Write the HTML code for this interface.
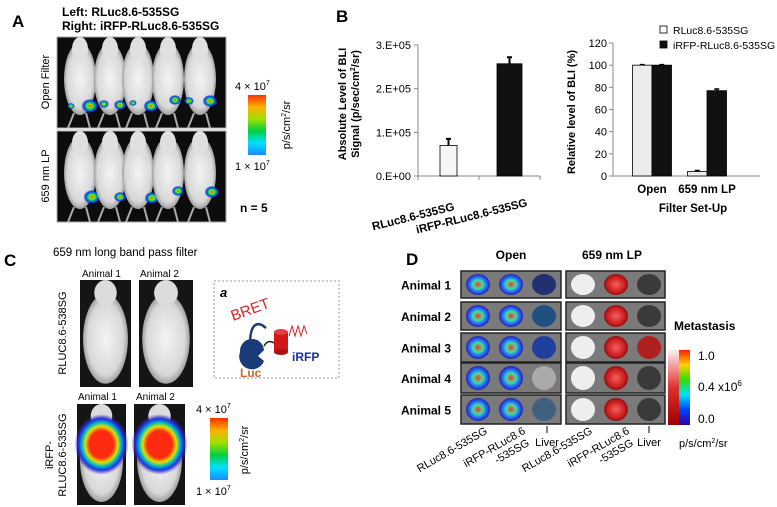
<!DOCTYPE html>
<html><head><meta charset="utf-8">
<style>
html,body{margin:0;padding:0;background:#fff;}
svg{display:block;font-family:"Liberation Sans",Arial,sans-serif;}
</style></head>
<body>
<svg id="fig" width="777" height="507" viewBox="0 0 777 507" xmlns="http://www.w3.org/2000/svg">
<defs>
  <linearGradient id="rainbow" x1="0" y1="1" x2="0" y2="0">
    <stop offset="0" stop-color="#1a8cff"/><stop offset="0.2" stop-color="#00e0ff"/>
    <stop offset="0.4" stop-color="#00d040"/><stop offset="0.6" stop-color="#a0e000"/>
    <stop offset="0.8" stop-color="#ffb000"/><stop offset="1" stop-color="#ff3000"/>
  </linearGradient>
  <linearGradient id="rainbowD" x1="0" y1="1" x2="0" y2="0">
    <stop offset="0" stop-color="#3000a0"/><stop offset="0.2" stop-color="#0040ff"/>
    <stop offset="0.4" stop-color="#00e0ff"/><stop offset="0.6" stop-color="#30e000"/>
    <stop offset="0.8" stop-color="#ffd000"/><stop offset="1" stop-color="#ff2000"/>
  </linearGradient>
  <linearGradient id="redbar" x1="0" y1="1" x2="0" y2="0">
    <stop offset="0" stop-color="#a00000"/><stop offset="0.5" stop-color="#e03030"/><stop offset="1" stop-color="#fff0f0"/>
  </linearGradient>
  <radialGradient id="spot">
    <stop offset="0" stop-color="#ff3000"/><stop offset="0.25" stop-color="#a0e000"/>
    <stop offset="0.5" stop-color="#00d060"/><stop offset="0.75" stop-color="#0040ff"/><stop offset="1" stop-color="#2010c0" stop-opacity="0.2"/>
  </radialGradient>
  <radialGradient id="bigspot">
    <stop offset="0" stop-color="#ff2a10"/><stop offset="0.45" stop-color="#ff2a10"/><stop offset="0.6" stop-color="#e0e000"/>
    <stop offset="0.72" stop-color="#00c0c0"/><stop offset="0.85" stop-color="#2030e0"/><stop offset="1" stop-color="#4020c0" stop-opacity="0"/>
  </radialGradient>
  <radialGradient id="mouse">
    <stop offset="0" stop-color="#f4f4f4"/><stop offset="0.8" stop-color="#d8d8d8"/><stop offset="1" stop-color="#a0a0a0"/>
  </radialGradient>
  <radialGradient id="organ">
    <stop offset="0" stop-color="#ff3020"/><stop offset="0.4" stop-color="#40e0a0"/><stop offset="0.75" stop-color="#2060ff"/><stop offset="1" stop-color="#3020a0"/>
  </radialGradient>
  <radialGradient id="redorgan">
    <stop offset="0" stop-color="#f06060"/><stop offset="0.7" stop-color="#d02020"/><stop offset="1" stop-color="#901010"/>
  </radialGradient>
</defs>

<!-- ========== PANEL A ========== -->
<g>
  <text x="12" y="27" font-size="17" font-weight="bold">A</text>
  <text x="62" y="16" font-size="12" font-weight="bold">Left: RLuc8.6-535SG</text>
  <text x="62" y="30" font-size="12" font-weight="bold">Right: iRFP-RLuc8.6-535SG</text>
  <text transform="translate(49,82) rotate(-90)" text-anchor="middle" font-size="11">Open Filter</text>
  <text transform="translate(49,176) rotate(-90)" text-anchor="middle" font-size="11">659 nm LP</text>
  <g id="mouseRows"></g>
  <rect x="248" y="95" width="18" height="60" fill="url(#rainbow)"/>
  <text x="235" y="90" font-size="11">4 × 10<tspan dy="-5" font-size="7">7</tspan></text>
  <text x="235" y="170" font-size="11">1 × 10<tspan dy="-5" font-size="7">7</tspan></text>
  <text transform="translate(290,125) rotate(-90)" text-anchor="middle" font-size="11">p/s/cm<tspan dy="-4" font-size="7">2</tspan><tspan dy="4">/sr</tspan></text>
  <text x="240" y="212" font-size="12" font-weight="bold">n = 5</text>
</g>

<!-- ========== PANEL B ========== -->
<g>
  <text x="336" y="22" font-size="17" font-weight="bold">B</text>
  <text transform="translate(346,104) rotate(-90)" text-anchor="middle" font-size="11" font-weight="bold">Absolute Level of BLI</text>
  <text transform="translate(359,104) rotate(-90)" text-anchor="middle" font-size="11" font-weight="bold">Signal (p/sec/cm<tspan dy="-4" font-size="7">2</tspan><tspan dy="4">/sr)</tspan></text>
  <g id="chart1"></g>
  <g id="chart2"></g>
</g>

<!-- ========== PANEL C ========== -->
<g>
  <text x="4" y="266" font-size="17" font-weight="bold">C</text>
  <text x="53" y="256" font-size="11.5">659 nm long band pass filter</text>
  <text x="82" y="277" font-size="10">Animal 1</text>
  <text x="140" y="277" font-size="10">Animal 2</text>
  <text x="78" y="400" font-size="10">Animal 1</text>
  <text x="136" y="400" font-size="10">Animal 2</text>
  <text transform="translate(66,333) rotate(-90)" text-anchor="middle" font-size="11">RLUC8.6-538SG</text>
  <text transform="translate(53,455) rotate(-90)" text-anchor="middle" font-size="11">iRFP-</text>
  <text transform="translate(66,455) rotate(-90)" text-anchor="middle" font-size="11">RLUC8.6-535SG</text>
  <g id="cMice"></g>
  <rect x="210" y="418" width="18" height="62" fill="url(#rainbow)"/>
  <text x="196" y="413" font-size="11">4 × 10<tspan dy="-5" font-size="7">7</tspan></text>
  <text x="196" y="495" font-size="11">1 × 10<tspan dy="-5" font-size="7">7</tspan></text>
  <text transform="translate(248,450) rotate(-90)" text-anchor="middle" font-size="11">p/s/cm<tspan dy="-4" font-size="7">2</tspan><tspan dy="4">/sr</tspan></text>
  <g>
    <rect x="214" y="281" width="125" height="97" fill="none" stroke="#999" stroke-dasharray="2,2"/>
    <text x="220" y="297" font-size="13" font-weight="bold" font-style="italic">a</text>
    <text transform="translate(233,321) rotate(-20)" font-size="15" fill="#e02020">BRET</text>
    <path d="M250 345 Q250 320 262 325 L266 328" fill="none" stroke="#1a3a7a" stroke-width="2.5"/>
    <path d="M240 352 a12 12 0 0 1 24 -2 l-6 6 l6 5 a12 12 0 0 1 -24 -9z" fill="#1a3a7a"/>
    <path d="M264 346 Q268 339 274 343" fill="none" stroke="#222" stroke-width="1.5"/>
    <rect x="274" y="332" width="14" height="20" fill="#d01818"/>
    <ellipse cx="281" cy="332" rx="7" ry="3" fill="#e04040"/>
    <ellipse cx="281" cy="352" rx="7" ry="3" fill="#b01010"/>
    <path d="M289 336 l3 -10 l3 10 l3 -10 l3 10 l3 -10 l3 8" fill="none" stroke="#e02020" stroke-width="1"/>
    <text x="240" y="377" font-size="12" font-weight="bold" fill="#c86a30">Luc</text>
    <text x="292" y="361" font-size="12" font-weight="bold" fill="#1c2ab0">iRFP</text>
  </g>
</g>

<!-- ========== PANEL D ========== -->
<g>
  <text x="406" y="265" font-size="17" font-weight="bold">D</text>
  <text x="511" y="259" text-anchor="middle" font-size="12" font-weight="bold">Open</text>
  <text x="612" y="259" text-anchor="middle" font-size="12" font-weight="bold">659 nm LP</text>
  <g id="dRows"></g>
  <text x="674" y="330" font-size="12" font-weight="bold">Metastasis</text>
  <rect x="668" y="350" width="11" height="75" fill="url(#redbar)"/>
  <rect x="679" y="350" width="11" height="75" fill="url(#rainbowD)"/>
  <text x="698" y="360" font-size="12">1.0</text>
  <text x="698" y="391" font-size="12">0.4 x10<tspan dy="-5" font-size="8">6</tspan></text>
  <text x="698" y="423" font-size="12">0.0</text>
  <text x="679" y="447" font-size="11">p/s/cm<tspan dy="-4" font-size="7">2</tspan><tspan dy="4">/sr</tspan></text>
  <g font-size="11">
    <text transform="translate(488,433) rotate(-30)" text-anchor="end">RLuc8.6-535SG</text>
    <text transform="translate(526,433) rotate(-30)" text-anchor="end">iRFP-RLuc8.6</text>
    <text transform="translate(530,445) rotate(-30)" text-anchor="end">-535SG</text>
    <text x="547" y="446" text-anchor="middle">Liver</text>
    <text transform="translate(593,433) rotate(-30)" text-anchor="end">RLuc8.6-535SG</text>
    <text transform="translate(630,433) rotate(-30)" text-anchor="end">iRFP-RLuc8.6</text>
    <text transform="translate(634,445) rotate(-30)" text-anchor="end">-535SG</text>
    <text x="649" y="446" text-anchor="middle">Liver</text>
  </g>
  <line x1="547" y1="426" x2="547" y2="433" stroke="#000"/>
  <line x1="649" y1="426" x2="649" y2="433" stroke="#000"/>
</g>

<script>
// ---- Chart data ----
const absCategories = ["RLuc8.6-535SG", "iRFP-RLuc8.6-535SG"];
const absValues = [70000, 257000];
const absErrors = [15000, 15000];
const absTicks = ["0.E+00", "1.E+05", "2.E+05", "3.E+05"];
const absTickValues = [0, 100000, 200000, 300000];

const relCategories = ["Open", "659 nm LP"];
const relRLuc = [100, 4];
const relIRFP = [100, 77];
const relRLucErr = [0.5, 1];
const relIRFPErr = [0.5, 1.5];
const relTicks = [0, 20, 40, 60, 80, 100, 120];
const relSeries = ["RLuc8.6-535SG", "iRFP-RLuc8.6-535SG"];

const NS = "http://www.w3.org/2000/svg";
function mk(tag, attrs, parent) {
  const e = document.createElementNS(NS, tag);
  for (const k in attrs) e.setAttribute(k, attrs[k]);
  parent.appendChild(e);
  return e;
}

// ---- Chart 1 (absolute) ----
(function(){
  const g = document.getElementById('chart1');
  const x0 = 418, x1 = 540, yTop = 45, yBot = 176;
  const yMax = 300000;
  const y = v => yBot - (v / yMax) * (yBot - yTop);
  const band = (x1 - x0) / absCategories.length;
  const xc = i => x0 + band * (i + 0.5);
  const ax = mk('line', {x1:x0, y1:yTop, x2:x0, y2:yBot, stroke:'#888'}, g);
  
  
  const bx = mk('line', {x1:x0, y1:yBot, x2:x1, y2:yBot, stroke:'#888'}, g);
  
  
  absTickValues.forEach((v, i) => {
    mk('line', {x1:x0-4, y1:y(v), x2:x0, y2:y(v), stroke:'#888'}, g);
    const t = mk('text', {x:x0-7, y:y(v)+4, 'text-anchor':'end', 'font-size':11}, g);
    t.textContent = absTicks[i];
    
    
  });
  for (let i = 0; i <= absCategories.length; i++) mk('line', {x1:x0+band*i, y1:yBot, x2:x0+band*i, y2:yBot+4, stroke:'#888'}, g);
  const bw = [17, 25];
  const labEnd = [[455, 210], [528, 206]];
  absValues.forEach((v, i) => {
    const cx = xc(i);
    const r = mk('rect', {x:cx-bw[i]/2, y:y(v), width:bw[i], height:yBot-y(v), fill: i===0 ? '#f6f6f6' : '#111', stroke:'#000', 'stroke-width':0.8}, g);
    
    
    const eb = mk('path', {d:`M${cx} ${y(v)} V${y(v+absErrors[i])} M${cx-2.5} ${y(v+absErrors[i])} H${cx+2.5}`, stroke:'#000', 'stroke-width':2, fill:'none'}, g);
    
    
    const lab = mk('text', {transform:`translate(${labEnd[i][0]},${labEnd[i][1]}) rotate(-14)`, 'text-anchor':'end', 'font-size':11.5, 'font-weight':'bold'}, g);
    lab.textContent = absCategories[i];
    
    
  });
})();

// ---- Chart 2 (relative) ----
(function(){
  const g = document.getElementById('chart2');
  const x0 = 613, x1 = 760, yTop = 43, yBot = 176;
  const yMax = 120;
  const y = v => yBot - (v / yMax) * (yBot - yTop);
  const a = mk('line', {x1:x0, y1:yTop, x2:x0, y2:yBot, stroke:'#888'}, g);
  
  
  const b = mk('line', {x1:x0, y1:yBot, x2:x1, y2:yBot, stroke:'#888'}, g);
  
  
  relTicks.forEach(v => {
    mk('line', {x1:x0-4, y1:y(v), x2:x0, y2:y(v), stroke:'#888'}, g);
    const t = mk('text', {x:x0-6, y:y(v)+4, 'text-anchor':'end', 'font-size':11}, g);
    t.textContent = v;
    
    
  });
  const bw = 19.5;
  relCategories.forEach((c, i) => {
    const cx = 652 + i * 55;
    const vals = [relRLuc[i], relIRFP[i]];
    const errs = [relRLucErr[i], relIRFPErr[i]];
    vals.forEach((v, j) => {
      const bx = j === 0 ? cx - bw : cx;
      const r = mk('rect', {x:bx, y:y(v), width:bw, height:yBot-y(v), fill: j===0 ? '#ececec' : '#111', stroke:'#000', 'stroke-width':0.8}, g);
      
      
      const ex = bx + bw/2;
      const eb = mk('path', {d:`M${ex} ${y(v)} V${y(v+errs[j])} M${ex-2.5} ${y(v+errs[j])} H${ex+2.5}`, stroke:'#000', 'stroke-width':1.5}, g);
      
      
    });
    const lab = mk('text', {x:cx, y:yBot+17, 'text-anchor':'middle', 'font-size':11.5, 'font-weight':'bold'}, g);
    lab.textContent = c;
    
    
  });
  const xt = mk('text', {x:693, y:212, 'text-anchor':'middle', 'font-size':11.5, 'font-weight':'bold'}, g);
  xt.textContent = 'Filter Set-Up';
  
  
  const yt = mk('text', {transform:'translate(575,112) rotate(-90)', 'text-anchor':'middle', 'font-size':11, 'font-weight':'bold'}, g);
  yt.textContent = 'Relative level of BLI  (%)';
  
  
  relSeries.forEach((s, i) => {
    const ly = 34 + i * 15;
    const sw = mk('rect', {x:660, y:ly-8, width:7, height:7, fill: i===0 ? '#fff' : '#111', stroke:'#000', 'stroke-width':0.8}, g);
    
    
    const lt = mk('text', {x:673, y:ly, 'font-size':10.5}, g);
    lt.textContent = s;
    
    
  });
})();

// ---- Panel A mouse images ----
(function(){
  const g = document.getElementById('mouseRows');
  const mouseX = [80, 110, 138, 168, 200];
  const spotsOpen = [[[90,106,7],[71,106,3]],[[104,104,4],[120,105,5]],[[151,106,6],[133,103,3]],[[175,100,5]],[[189,101,4],[210,101,6]]];
  const spotsLP = [[[92,197,7]],[[120,197,5]],[[152,198,6]],[[178,191,5]],[[212,192,6]]];
  [37, 131].forEach((top, r) => {
    const bg = mk('rect', {x:57, y:top, width:169, height:91, fill:'#0c0c0c', stroke:'#aaa', 'stroke-width':1}, g);
    
    
    mouseX.forEach((cx, i) => {
      mk('ellipse', {cx:cx, cy:top+42, rx:16, ry:36, fill:'url(#mouse)'}, g);
      mk('ellipse', {cx:cx, cy:top+12, rx:8, ry:12, fill:'#e0e0e0'}, g);
      mk('line', {x1:cx-6, y1:top+76, x2:cx-12, y2:top+91, stroke:'#aaa', 'stroke-width':2}, g);
      mk('line', {x1:cx+6, y1:top+76, x2:cx+10, y2:top+91, stroke:'#aaa', 'stroke-width':2}, g);
      const sp = (r===0 ? spotsOpen : spotsLP)[i];
      sp.forEach(s => mk('ellipse', {cx:s[0], cy:s[1], rx:s[2]*1.2, ry:s[2], fill:'url(#spot)'}, g));
    });
  });
  mk('rect', {x:57, y:128, width:169, height:3, fill:'#ddd'}, g);
})();

// ---- Panel C mice ----
(function(){
  const g = document.getElementById('cMice');
  const boxes = [[80,280,51,107,0],[139,280,54,107,0],[77,404,49,101,1],[134,404,51,101,1]];
  boxes.forEach(b => {
    const [x,y,w,h,sig] = b;
    const bg = mk('rect', {x:x, y:y, width:w, height:h, fill:'#151515'}, g);
    
    
    mk('ellipse', {cx:x+w/2, cy:y+h*0.55, rx:w*0.44, ry:h*0.42, fill:'url(#mouse)'}, g);
    mk('ellipse', {cx:x+w/2, cy:y+h*0.12, rx:w*0.22, ry:h*0.12, fill:'#dcdcdc'}, g);
    if (sig) mk('ellipse', {cx:x+w/2, cy:y+h*0.4, rx:w*0.55, ry:h*0.3, fill:'url(#bigspot)'}, g);
  });
})();

// ---- Panel D organ rows ----
(function(){
  const g = document.getElementById('dRows');
  const rowY = [271, 302, 333, 363, 395];
  const rowH = [27, 28, 29, 30, 29];
  const animals = ["Animal 1","Animal 2","Animal 3","Animal 4","Animal 5"];
  const livers = ['#203070','#205080','#2040a0','#aaa','#406080'];
  rowY.forEach((y0, r) => {
    const h = rowH[r];
    const t = mk('text', {x:401, y:y0+h/2+5, 'font-size':12, 'font-weight':'bold'}, g);
    t.textContent = animals[r];
    
    
    [[461,100],[566,99]].forEach((bx, c) => {
      const rect = mk('rect', {x:bx[0], y:y0, width:bx[1], height:h, fill:'#7a7a7a', stroke:'#222', 'stroke-width':1.5}, g);
      
      
      [0,1,2].forEach(k => {
        const cx = bx[0] + 17 + k*33;
        let fill;
        if (c===0) fill = k===2 ? livers[r] : 'url(#organ)';
        else fill = k===0 ? '#eeeeee' : (k===1 ? 'url(#redorgan)' : (r===2 ? '#b02020' : '#3a3a3a'));
        mk('ellipse', {cx:cx, cy:y0+h/2, rx:12, ry:h/2-3, fill:fill}, g);
      });
    });
  });
})();
</script>
</svg>
</body></html>
